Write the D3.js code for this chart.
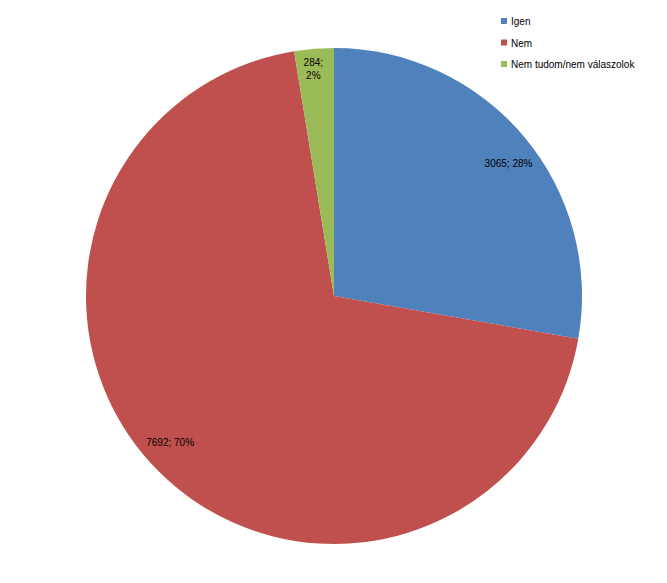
<!DOCTYPE html>
<html>
<head>
<meta charset="utf-8">
<script src="https://cdn.jsdelivr.net/npm/d3@7"></script>
<style>
  body { margin: 0; background: #fff; }
  svg { display: block; font-family: "Liberation Sans", Arial, sans-serif; }
</style>
</head>
<body>
<svg id="chart" width="667" height="583"></svg>
<script>
const categories = ['Igen', 'Nem', 'Nem tudom/nem válaszolok'];
const counts = [3065, 7692, 284];
const percents = ['28%', '70%', '2%'];
const colors = ['#4F81BD', '#C0504D', '#9BBB59'];

const width = 667, height = 583;
const cx = 334, cy = 296, radius = 248;

const svg = d3.select('#chart');

const data = categories.map((c, i) => ({name: c, value: counts[i], pct: percents[i], color: colors[i]}));

const pie = d3.pie().value(d => d.value).sort(null);
const arc = d3.arc().innerRadius(0).outerRadius(radius);
const arcs = pie(data);

const g = svg.append('g').attr('transform', `translate(${cx},${cy})`);

g.selectAll('path')
  .data(arcs)
  .enter()
  .append('path')
  .attr('d', arc)
  .attr('fill', d => d.data.color);

// labels placed at the inside end of each slice
const labelLines = d => d.data.value < 1000 ? [`${d.data.value};`, d.data.pct] : [`${d.data.value}; ${d.data.pct}`];
const lineH = 13;

g.selectAll('text.lbl')
  .data(arcs)
  .enter()
  .append('text')
  .attr('class', 'lbl')
  .attr('font-size', 10)
  .attr('fill', '#000')
  .attr('text-anchor', 'middle')
  .each(function(d) {
    const t = d3.select(this);
    const lines = labelLines(d);
    lines.forEach((l, i) => t.append('tspan').attr('x', 0).attr('dy', i === 0 ? 0 : lineH).text(l));
    const bb = this.getBBox();
    // wide slices: Excel nudges the label a little clockwise of the middle
    const span = d.endAngle - d.startAngle;
    const a = (d.startAngle + d.endAngle) / 2 + (span > 0.5 ? 0.05 : -0.01);
    const sx = Math.sin(a), sy = -Math.cos(a);
    const half = Math.abs(sx) * bb.width / 2 + Math.abs(sy) * (lines.length * lineH) / 2;
    const r = radius - half - 6;
    const x = sx * r, y = sy * r;
    const top = y - (lines.length * lineH) / 2 + 10;
    t.attr('transform', `translate(${x},${top})`);
  });

// legend
const legend = svg.append('g').attr('transform', 'translate(501,15)');
const rows = legend.selectAll('g')
  .data(data)
  .enter()
  .append('g')
  .attr('transform', (d, i) => `translate(0,${i * 21.5})`);

rows.append('rect')
  .attr('width', 6).attr('height', 6)
  .attr('y', 3)
  .attr('fill', d => d.color);

rows.append('text')
  .attr('x', 10).attr('y', 10)
  .attr('font-size', 10)
  .attr('fill', '#000')
  .text(d => d.name);
</script>
</body>
</html>
